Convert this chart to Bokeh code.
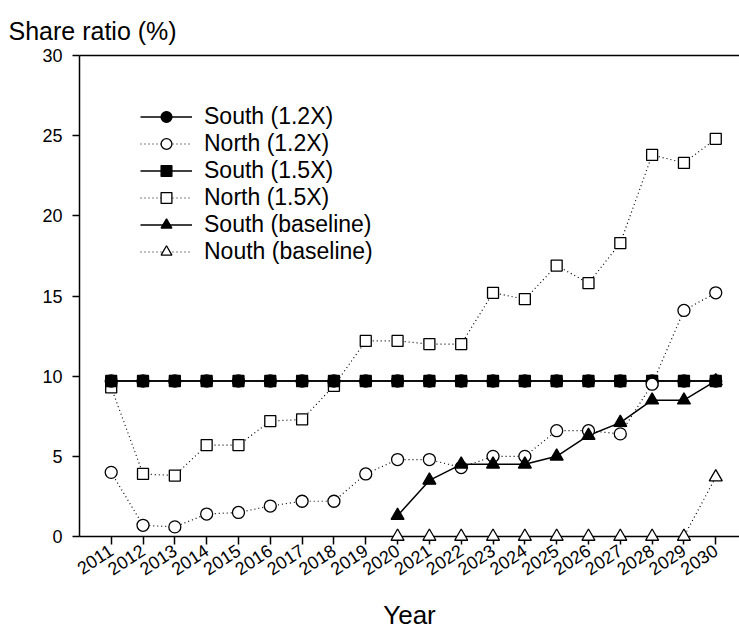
from bokeh.plotting import figure
from bokeh.models import Range1d, FixedTicker, LinearAxis, Legend, LegendItem
from bokeh.embed import file_html
from bokeh.resources import INLINE

years = [2011, 2012, 2013, 2014, 2015, 2016, 2017, 2018, 2019, 2020,
         2021, 2022, 2023, 2024, 2025, 2026, 2027, 2028, 2029, 2030]
south_12 = [9.7, 9.7, 9.7, 9.7, 9.7, 9.7, 9.7, 9.7, 9.7, 9.7,
            9.7, 9.7, 9.7, 9.7, 9.7, 9.7, 9.7, 9.7, 9.7, 9.7]
north_12 = [4.0, 0.7, 0.6, 1.4, 1.5, 1.9, 2.2, 2.2, 3.9, 4.8,
            4.8, 4.3, 5.0, 5.0, 6.6, 6.6, 6.4, 9.5, 14.1, 15.2]
south_15 = [9.7, 9.7, 9.7, 9.7, 9.7, 9.7, 9.7, 9.7, 9.7, 9.7,
            9.7, 9.7, 9.7, 9.7, 9.7, 9.7, 9.7, 9.7, 9.7, 9.7]
north_15 = [9.3, 3.9, 3.8, 5.7, 5.7, 7.2, 7.3, 9.4, 12.2, 12.2,
            12.0, 12.0, 15.2, 14.8, 16.9, 15.8, 18.3, 23.8, 23.3, 24.8]
base_years = [2020, 2021, 2022, 2023, 2024, 2025, 2026, 2027, 2028, 2029, 2030]
south_base = [1.3, 3.5, 4.5, 4.5, 4.5, 5.0, 6.3, 7.1, 8.5, 8.5, 9.7]
north_base = [0, 0, 0, 0, 0, 0, 0, 0, 0, 0, 3.7]
y_ticks = [0, 5, 10, 15, 20, 25, 30]

FONT = "Liberation Sans"

p = figure(width=739, height=633, output_backend="svg", toolbar_location=None,
           x_range=Range1d(2010.004, 2030.746), y_range=Range1d(0, 30),
           min_border_left=79, min_border_right=0, min_border_top=55,
           min_border_bottom=97, x_axis_label="Year")
p.grid.visible = False
p.outline_line_color = None

p.title.text = "Share ratio (%)"
p.title.text_font = FONT
p.title.text_font_size = "25px"
p.title.text_font_style = "normal"
p.title.text_color = "black"
p.title.align = "left"
p.title.offset = -71
p.title.standoff = 21

series = [
    ("South (1.2X)", years, south_12, "circle", "black", "solid", 12),
    ("North (1.2X)", years, north_12, "circle", "white", "1 3", 12),
    ("South (1.5X)", years, south_15, "square", "black", "solid", 11),
    ("North (1.5X)", years, north_15, "square", "white", "1 3", 11),
    ("South (baseline)", base_years, south_base, "triangle", "black", "solid", 13),
    ("Nouth (baseline)", base_years, north_base, "triangle", "white", "1 3", 13),
]
draw_order = [3, 2, 0, 1, 4, 5]
rend = {}
for i in draw_order:
    label, xs, ys, mk, fill, dash, sz = series[i]
    lw = 1.5 if dash == "solid" else 1.2
    ln = p.line(xs, ys, line_color="black", line_width=lw, line_dash=dash)
    sc = p.scatter(xs, ys, marker=mk, size=sz, fill_color=fill,
                   line_color="black", line_width=1.3)
    sc.level = "overlay"
    rend[i] = (ln, sc)

items = [LegendItem(label=series[i][0], renderers=list(rend[i])) for i in range(6)]
legend = Legend(items=items, location=(61, 271))
legend.border_line_color = None
legend.background_fill_alpha = 0
legend.padding = 0
legend.margin = 0
legend.spacing = 0
legend.glyph_width = 52
legend.glyph_height = 27
legend.label_height = 27
legend.label_standoff = 12
legend.label_text_font = FONT
legend.label_text_font_size = "23px"
legend.label_text_color = "black"
p.add_layout(legend)

xa = p.xaxis[0]
xa.ticker = FixedTicker(ticks=years)
xa.major_tick_out = 8
xa.major_tick_in = 0
xa.minor_tick_out = 0
xa.minor_tick_in = 0
xa.major_tick_line_width = 1.5
xa.axis_line_width = 1.5
xa.major_label_orientation = 0.58
xa.major_label_standoff = 4
xa.major_label_text_font = FONT
xa.major_label_text_font_size = "18px"
xa.major_label_text_color = "black"
xa.axis_label_text_font = FONT
xa.axis_label_text_font_size = "26px"
xa.axis_label_text_font_style = "normal"
xa.axis_label_text_color = "black"
xa.axis_label_standoff = 16

ya = p.yaxis[0]
ya.ticker = FixedTicker(ticks=y_ticks)
ya.major_tick_out = 7
ya.major_tick_in = 0
ya.minor_tick_out = 0
ya.minor_tick_in = 0
ya.major_tick_line_width = 1.5
ya.axis_line_width = 1.5
ya.major_label_standoff = 10
ya.major_label_text_font = FONT
ya.major_label_text_font_size = "18px"
ya.major_label_text_color = "black"

top = LinearAxis(ticker=FixedTicker(ticks=[]), major_label_text_font_size="0px",
                 major_tick_out=0, major_tick_in=0, minor_tick_out=0, minor_tick_in=0,
                 axis_line_width=1.5)
p.add_layout(top, "above")

open("out.html", "w").write(file_html(p, INLINE))
